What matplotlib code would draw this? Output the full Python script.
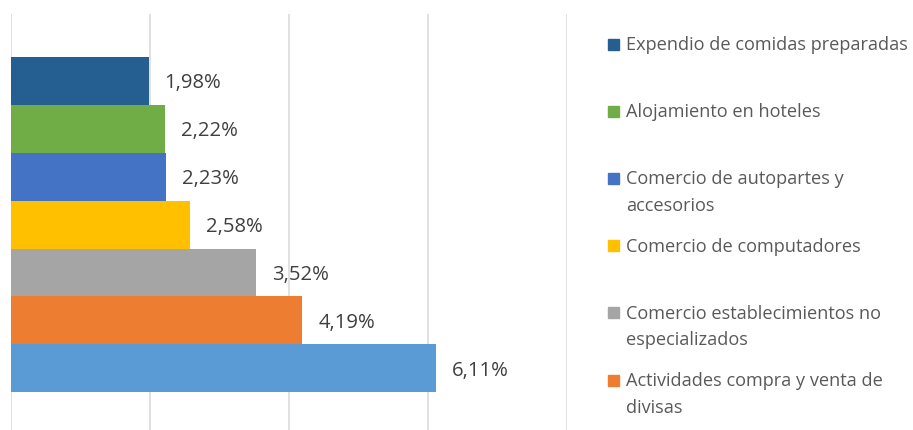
import matplotlib.pyplot as plt
from matplotlib.patches import Rectangle

# participacion por actividad (%), de arriba hacia abajo
values = [1.98, 2.22, 2.23, 2.58, 3.52, 4.19, 6.11]
value_labels = ["1,98%", "2,22%", "2,23%", "2,58%", "3,52%", "4,19%", "6,11%"]
colors = ["#255E91", "#70AD47", "#4472C4", "#FFC000", "#A5A5A5", "#ED7D31", "#5B9BD5"]

# la leyenda original solo muestra las primeras seis series
legend_labels = [
    "Expendio de comidas preparadas",
    "Alojamiento en hoteles",
    "Comercio de autopartes y\naccesorios",
    "Comercio de computadores",
    "Comercio establecimientos no\nespecializados",
    "Actividades compra y venta de\ndivisas",
]

plt.rcParams["font.family"] = ["Open Sans", "DejaVu Sans"]

W, H = 913, 431
fig = plt.figure(figsize=(W / 100, H / 100), dpi=100)
ax = fig.add_axes([11 / W, 0, (567 - 11) / W, (431 - 15) / H])

pos = list(range(len(values)))
ax.barh(pos, values, height=1.0, color=colors, zorder=2)

for p, v, lab in zip(pos, values, value_labels):
    ax.annotate(lab, (v, p), xytext=(11.5, -1), textcoords="offset points",
                va="center", ha="left", fontsize=14.6, color="#404040")

ax.set_xlim(0, 8)
ax.set_ylim(7.29, -1.40)
ax.set_xticks([0, 2, 4, 6, 8])
ax.set_yticks([])
ax.tick_params(axis="x", length=0, labelbottom=False)
ax.grid(axis="x", color="#D9D9D9", linewidth=1.1, zorder=0)
for s in ax.spines.values():
    s.set_visible(False)

# leyenda a la derecha
for i, (lab, c) in enumerate(zip(legend_labels, colors)):
    y = 45 + 67.2 * i
    fig.patches.append(Rectangle((608 / W, 1 - (y + 5.5) / H), 11 / W, 11 / H,
                                 transform=fig.transFigure, color=c))
    fig.text(626 / W, 1 - (y - 9) / H, lab, ha="left", va="top",
             fontsize=13.1, color="#595959", linespacing=1.62)

fig.savefig("out.png", dpi=100)
